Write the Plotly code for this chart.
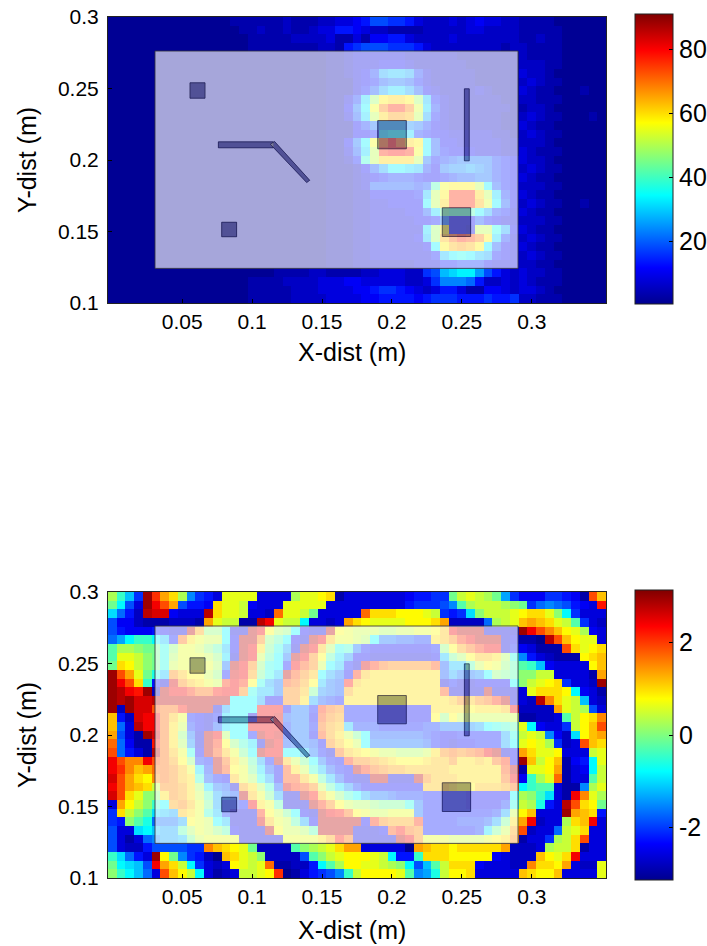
import plotly.graph_objects as go

# Grid codes: one base-36 character per cell, rows listed top to bottom.
AMP_ROWS = [
"0"*14+"111111"+"2111"+"223345"+"77665"+"32223"+"2343322"+"1111"+"000000",
"0"*14+"011211"+"2112"+"335"+"5432211"+"112222"+"2332222"+"1111100000",
"0"*14+"001111"+"1222"+"231131"+"44553"+"22223"+"2222222"+"1121100000",
"0"*14+"001111"+"1111"+"221"+"567"+"776665"+"3222"+"2222212"+"2111100000",
"0"*24+"011233"+"333322"+"22221111111"+"2111100000",
"0"*24+"011233"+"344432"+"22222111111"+"2221100000",
"0"*24+"011234"+"6abba6"+"32222211111"+"3221000000",
"0"*24+"011134"+"578875"+"32222211111"+"2321100000",
"0"*24+"011135"+"7acca7"+"43222232111"+"3211000100",
"0"*24+"01136c"+"jnoonjb5"+"322222211"+"2211100000",
"0"*24+"01148d"+"mruurlc6"+"322222221"+"1221000000",
"0"*24+"01137c"+"koqqpka5"+"322222211"+"2321100010",
"0"*24+"011146"+"8aaa9864"+"322222211"+"3211000000",
"0"*24+"011144"+"5cddc654"+"433333221"+"2321100000",
"0"*24+"01148d"+"msvsond7"+"443333322"+"2221000000",
"0"*24+"01137c"+"kuvvumd7"+"544433322"+"3211100000",
"0"*24+"01125f"+"kooook85"+"678888654"+"3221000000",
"0"*24+"011124"+"7addcb64"+"899a98654"+"2321100000",
"0"*24+"011123"+"45666544"+"567788654"+"3211000000",
"0"*24+"011123"+"7777767g"+"mnnnkd754"+"2221100000",
"0"*24+"011122"+"444445bk"+"nuuuokc64"+"3211000000",
"0"*24+"011122"+"334444dk"+"ouuupld74"+"2321100100",
"0"*24+"011122"+"3333447c"+"hgggda653"+"3211000000",
"0"*24+"011122"+"33333445"+"844475433"+"2221100000",
"0"*24+"011122"+"333333cj"+"n443kkea4"+"3211000000",
"0"*24+"011122"+"333334bj"+"psutrnc63"+"2321100000",
"0"*24+"011122"+"3333334d"+"npqpnd743"+"3211000000",
"0"*24+"011122"+"33333335"+"bdedba543"+"2321100000",
"0"*24+"011122"+"22222333"+"556664333"+"2211000000",
"0"*19+"11112211"+"112233322"+"67bcdda7532"+"3221100000",
"0"*16+"11112222333443333322"+"36999852232"+"3211100000",
"0"*16+"11111222333344566543"+"23553114432"+"3321000000",
"0"*16+"11111222233334455554"+"56665556556"+"2211100000",
]

PHASE_ROWS = [
"jfb6ytpnj9653llll333"+"3jllmn1333333345566h"+"klkjha6444665"+"41so",
"hd73yvsp7554nllk4333"+"lllll333333333566679"+"gjkkkjih68987543u",
"c852xww4333xnllk332r"+"llkh33333rnnnmmmlk65"+"6cikkklmnnlid6333",
"74421112221plkk11xvl"+"kkd3323pnmllllmmmnp2"+"2228jkloponlkg632",
"754445433xpiid33xvmj"+"id433xmlkkkjjkkllmov"+"xxx3333yvsqomlj43",
"8adffdb5rnlkkd4xxqig"+"d43xvollkjd887766noq"+"tvxxx34110xsomll3",
"gjjihheillkigb4xvnhe"+"a3xvojef8544444445im"+"prtvv3543111snlmn",
"gllkihejlllkic3xvkgd"+"8xvqmgc94433333334bh"+"jmoonje9532111mno",
"hnmkihekllllj8xvqied"+"5vsqkdb53wtrqqqqqs7b"+"bgkmliggfb43333mo",
"ysplhebqommki5wvpheb"+"xsqoda84tonnnnnnnn7a"+"889dihgiikk33331p",
"yvsnf53wqonlktvtmea8"+"srpmb87uonnnnnnnnn35"+"334444diklmn6332y",
"yxvuy2xvvtrruvvqebb8"+"qqoh987pnnnnnnnnnns3"+"333x3333lnnnmd431",
"yxywwxxxxxxxxxddda44"+"qqna765nnnnmmmnnnnno"+"qoqrtx332xqnlkb32",
"y2ywwsrruxxx3adddvvv"+"4885trq5555444444nnn"+"nmnnnov2222plkj73",
"o52wvvrol5435cdd3vvw"+"7884sqp5555444444mim"+"kkkkkkk11223gkmnq",
"o83xvvrnk6437cddvvvv"+"6885rpob666555556688"+"89adefgld4336kmos",
"p731ywrni83xvjdd5xvw"+"6884spnkhd7777776544"+"55555aeklk942cmop",
"r8411urnj93xtmifc3xv"+"78874qomkd8888887543"+"44555adlmlj623son",
"s8531xrole4xsolhdxvv"+"ddb853ronmlkkjjjknqr"+"qrsvx34pnllm333kl",
"vsqqvsrpmi65xrnkga5x"+"okhd854tqqponmmmnooq"+"nnonrt4yokmo145dl",
"vtqoprrqolc6xsmlhc74"+"snkfb754xtrqppooooon"+"nnnnnsx1llmp134dk",
"wspnmqrqonf754oljea4"+"ssolgb7433xx333xqooo"+"nnnnnrv4fjlr133gk",
"vsponkqqpnjc873pnjf7"+"wtsqkgc964444444ooon"+"mmoooprdfgg3119jl",
"wsnliinqpnkga87xolha"+"33xuolifda8876665555"+"544444djifc31vqlj",
"3pmkifdpqolha665vnlg"+"333xtqmkjjihhhe85555"+"544446ekje53xsnmh",
"6nkigcbaonlfb6333tmk"+"hd43xvurmlkklll85555"+"55556akmo333ypon5",
"65ige888amlkdb333wol"+"kga4xxxxx4tqpppt5555"+"6667ahnpv233jnov3",
"733cdbaagjlkig4333xm"+"kkjgxxxx3334surq5555"+"556chkps2338kln33",
"731389aabhkllll33333"+"llllnpur33333xvqlllk"+"kkklmnq1336jkns33",
"73225777766qonmlh222"+"2gijklnpp333330ponnm"+"nnnnnp2223jkkn133",
"fc853ymh96520onlki22"+"227giklmmmlkd55fnnnm"+"mmmm43222omlnv333",
"hdcb7vpnkd6323mlklr1"+"1225dgjmmllkjid7bgkn"+"nn433322qnnmp322l",
"ifdb83somkd3123kklmt"+"0135679fkmmmmlg9aekm"+"mn33333onmmo3333l",
]

X_TICKS = [0.05, 0.1, 0.15, 0.2, 0.25, 0.3]
X_LABELS = ["0.05", "0.1", "0.15", "0.2", "0.25", "0.3"]
Y_TICKS = [0.1, 0.15, 0.2, 0.25, 0.3]
Y_LABELS = ["0.1", "0.15", "0.2", "0.25", "0.3"]
AMP_TICKS = [20, 40, 60, 80]
PHASE_TICKS = [-2, 0, 2]

# Device outline drawn on top of both maps, in metres
VEIL = [(0.0305, 0.1242), (0.2902, 0.2762)]
BOXES = [
    (0.0555, 0.2432, 0.0663, 0.2540),
    (0.0782, 0.1463, 0.0889, 0.1565),
    (0.0758, 0.2085, 0.1151, 0.2127),
    (0.2518, 0.1994, 0.2553, 0.2498),
    (0.1898, 0.2078, 0.2103, 0.2276),
    (0.2360, 0.1465, 0.2563, 0.1666),
]
SLANT = [(0.1130, 0.2110), (0.1160, 0.2130), (0.1412, 0.1858), (0.1390, 0.1842)]

AMP_MIN, AMP_MAX = 0.5, 91.0
PHASE_MIN, PHASE_MAX = -3.1416, 3.1416

JET = [
    [0.0, "rgb(0,0,143)"], [0.125, "rgb(0,0,255)"], [0.375, "rgb(0,255,255)"],
    [0.625, "rgb(255,255,0)"], [0.875, "rgb(255,0,0)"], [1.0, "rgb(128,0,0)"],
]

for r in AMP_ROWS + PHASE_ROWS:
    assert len(r) == 57, (len(r), r)

amp = [[1 + 2.5 * int(c, 36) for c in row] for row in AMP_ROWS]
phase = [[-3.1416 + int(c, 36) * 6.2832 / 35 for c in row] for row in PHASE_ROWS]

W, H = 707, 946
FONT = "Liberation Sans"
DX = 0.00625
DY = 0.2 / 33
XR = [-DX / 2, -DX / 2 + 57 * DX]


def poly(pts):
    return "M" + " L".join(f"{x} {y}" for x, y in pts) + " Z"


def box_pts(b):
    return [(b[0], b[1]), (b[2], b[1]), (b[2], b[3]), (b[0], b[3])]


def overlay(xref, yref):
    v = VEIL
    path = poly([(v[0][0], v[0][1]), (v[1][0], v[0][1]), (v[1][0], v[1][1]), (v[0][0], v[1][1])])
    for b in BOXES:
        path += " " + poly(box_pts(b))
    path += " " + poly(SLANT)
    out = [dict(type="path", path=path, xref=xref, yref=yref, fillrule="evenodd",
                fillcolor="rgba(255,255,255,0.65)", line=dict(width=0), layer="above"),
           dict(type="rect", x0=v[0][0], y0=v[0][1], x1=v[1][0], y1=v[1][1], xref=xref, yref=yref,
                line=dict(color="rgba(50,50,60,0.85)", width=1), fillcolor="rgba(0,0,0,0)", layer="above")]
    for b in BOXES:
        out.append(dict(type="path", path=poly(box_pts(b)), xref=xref, yref=yref,
                        fillcolor="rgba(125,125,150,0.65)",
                        line=dict(color="rgba(15,15,60,0.6)", width=1), layer="above"))
    out.append(dict(type="path", path=poly(SLANT), xref=xref, yref=yref,
                    fillcolor="rgba(125,125,150,0.65)",
                    line=dict(color="rgba(15,15,60,0.6)", width=1), layer="above"))
    return out


def cbar(y_top, y_bot, ticks):
    return dict(x=635 / W, xanchor="left", xpad=0, ypad=0, thickness=38, thicknessmode="pixels",
                len=(y_bot - y_top) / H, lenmode="fraction", y=1 - (y_top + y_bot) / 2 / H, yanchor="middle",
                tickmode="array", tickvals=ticks, ticktext=[str(t) for t in ticks],
                ticks="inside", ticklen=4, tickcolor="black", tickwidth=1,
                outlinecolor="#222", outlinewidth=1, tickfont=dict(family=FONT, size=25, color="black"))


fig = go.Figure()
fig.add_trace(go.Heatmap(z=amp, x0=0, dx=DX, y0=0.3 - DY / 2, dy=-DY, colorscale=JET, zmin=AMP_MIN, zmax=AMP_MAX,
                         colorbar=cbar(14, 304, AMP_TICKS), xaxis="x", yaxis="y", zsmooth=False))
fig.add_trace(go.Heatmap(z=phase, x0=0, dx=DX, y0=0.3 - DY / 2, dy=-DY, colorscale=JET, zmin=PHASE_MIN, zmax=PHASE_MAX,
                         colorbar=cbar(590, 880, PHASE_TICKS), xaxis="x2", yaxis="y2", zsmooth=False))


def xax(anchor):
    return dict(domain=[108 / W, 606 / W], range=XR, anchor=anchor, tickmode="array", tickvals=X_TICKS,
                ticktext=X_LABELS, ticks="inside", ticklen=4, tickcolor="black", showgrid=False, zeroline=False,
                showline=True, linecolor="#222", linewidth=1, mirror=True,
                tickfont=dict(family=FONT, size=21, color="black"), automargin=False)


def yax(anchor, top, bot):
    return dict(domain=[1 - bot / H, 1 - top / H], range=[0.1, 0.3], anchor=anchor, tickmode="array",
                tickvals=Y_TICKS, ticktext=Y_LABELS, ticks="inside", ticklen=4, tickcolor="black", showgrid=False,
                zeroline=False, showline=True, linecolor="#222", linewidth=1, mirror=True, ticklabelstandoff=4,
                tickfont=dict(family=FONT, size=21, color="black"), automargin=False)


def label(text, px, py, rot=0):
    return dict(text=text, x=px / W, y=1 - py / H, xref="paper", yref="paper", showarrow=False, textangle=rot,
                xanchor="center", yanchor="middle", font=dict(family=FONT, size=25, color="black"))


fig.update_layout(
    width=W, height=H, autosize=False, margin=dict(l=0, r=0, t=0, b=0, autoexpand=False),
    paper_bgcolor="white", plot_bgcolor="white", showlegend=False,
    xaxis=xax("y"), yaxis=yax("x", 17, 303),
    xaxis2=xax("y2"), yaxis2=yax("x2", 592, 878),
    shapes=overlay("x", "y") + overlay("x2", "y2"),
    annotations=[label("X-dist (m)", 352, 352), label("Y-dist (m)", 27, 160, -90),
                 label("X-dist (m)", 352, 930), label("Y-dist (m)", 27, 735, -90)],
)

fig.write_html("out.html", config={"displayModeBar": False},
               post_script="document.body.style.margin='0';document.documentElement.style.overflow='hidden';")
